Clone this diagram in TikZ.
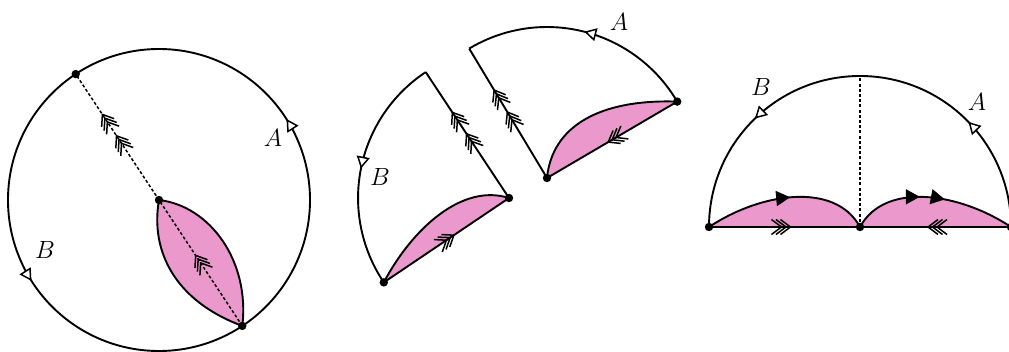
\documentclass[tikz,border=0pt]{standalone}
\usetikzlibrary{arrows.meta,decorations.markings}
\definecolor{pinkf}{RGB}{235,153,204}
\newcommand\trichev{\draw[chevline] (-1pt,7.5pt)--(9pt,0pt)--(-1pt,-7.5pt) (-5.5pt,7.5pt)--(4.5pt,0pt)--(-5.5pt,-7.5pt) (-10pt,7.5pt)--(0pt,0pt)--(-10pt,-7.5pt);}
\tikzset{
  edge/.style={line width=1.9pt},
  dotline/.style={line width=1.5pt, dash pattern=on 3pt off 2.2pt},
  chevline/.style={line width=1.5pt, solid, miter limit=10},
  opentri/.tip={Triangle[fill=white,length=12pt,width=13pt,line width=1.5pt]},
  filltri/.tip={Triangle[length=14pt,width=15pt]},
  chev/.style={postaction={decorate,decoration={markings,mark=at position #1 with {\trichev}}}},
  tri/.style={postaction={decorate,decoration={markings,mark=at position #1 with {\arrow{opentri}}}}},
  ftri/.style={postaction={decorate,decoration={markings,mark=at position #1 with {\arrow{filltri}}}}},
  lbl/.style={font=\fontsize{25}{28}\selectfont, inner sep=0pt},
  pinkfill/.style={fill=pinkf},
}
\begin{document}
\begin{tikzpicture}[x=1pt,y=1pt]
\useasboundingbox (0,0) rectangle (1009,351);
% ---------- figure 1 ----------
\coordinate (o1) at (159,151);
\coordinate (o1r) at (310,151);
\coordinate (p1) at (75.7,276.9);
\coordinate (p2) at (242.3,25.1);
\fill[pinkfill] (o1) .. controls (150,100) and (175,50) .. (p2) .. controls (250,90) and (210,145) .. (o1);
\draw[edge] (o1) .. controls (150,100) and (175,50) .. (p2) .. controls (250,90) and (210,145) .. (o1);
\draw[edge, tri=0.09, tri=0.59] (o1r) arc[start angle=0, end angle=360, radius=151];
\draw[dotline, chev=0.45, chev=0.62] (o1) -- (p1);
\draw[dotline, chev=0.5] (p2) -- (o1);
\fill (o1) circle[radius=4.2];
\fill (p1) circle[radius=4.2];
\fill (p2) circle[radius=4.2];
\node[lbl] (la1) at (273,213) {$A$};
\node[lbl] (lb1) at (45,101) {$B$};
% ---------- figure 2, left piece ----------
\coordinate (L) at (509,153);
\coordinate (LV) at (425.7,278.9);
\coordinate (LB) at (383.8,68.6);
\fill[pinkfill] (LB) .. controls (412,122) and (462,168) .. (L) -- cycle;
\draw[edge, tri=0.5] (LV) arc[start angle=123.5, end angle=214, radius=151];
\draw[edge, chev=0.45, chev=0.62] (L) -- (LV);
\draw[edge, chev=0.5] (LB) -- (L);
\draw[edge] (LB) .. controls (412,122) and (462,168) .. (L);
\fill (L) circle[radius=4.2];
\fill (LB) circle[radius=4.2];
\node[lbl] (lb2) at (380,174) {$B$};
% ---------- figure 2, right piece ----------
\coordinate (R) at (547,173);
\coordinate (RV) at (469.2,302.4);
\coordinate (RE) at (677.2,249.4);
\fill[pinkfill] (R) .. controls (552,225) and (600,252) .. (RE) -- cycle;
\draw[edge, tri=0.5] (RE) arc[start angle=30.4, end angle=121, radius=151];
\draw[edge, chev=0.45, chev=0.62] (R) -- (RV);
\draw[edge, chev=0.47] (RE) -- (R);
\draw[edge] (R) .. controls (552,225) and (600,252) .. (RE);
\fill (R) circle[radius=4.2];
\fill (RE) circle[radius=4.2];
\node[lbl] (la2) at (619,329) {$A$};
% ---------- figure 3 ----------
\coordinate (s) at (860,124);
\coordinate (s3l) at (709,124);
\coordinate (s3r) at (1011,124);
\coordinate (s3t) at (860,275);
\fill[pinkfill] (s3l) .. controls (760,158) and (835,170) .. (s) -- cycle;
\fill[pinkfill] (s) .. controls (885,170) and (960,158) .. (s3r) -- cycle;
\draw[dotline] (s) -- (s3t);
\draw[edge, tri=0.245, tri=0.745] (s3r) arc[start angle=0, end angle=180, radius=151];
\draw[edge, chev=0.48] (s3l) -- (s);
\draw[edge, chev=0.49] (s3r) -- (s);
\draw[edge, ftri=0.52] (s3l) .. controls (760,158) and (835,170) .. (s);
\draw[edge, ftri=0.42, ftri=0.57] (s) .. controls (885,170) and (960,158) .. (s3r);
\fill (s3l) circle[radius=4.2];
\fill (s) circle[radius=4.2];
\fill (s3r) circle[radius=4.2];
\node[lbl] (lb3) at (761,264) {$B$};
\node[lbl] (la3) at (977,249) {$A$};
\end{tikzpicture}
\end{document}
